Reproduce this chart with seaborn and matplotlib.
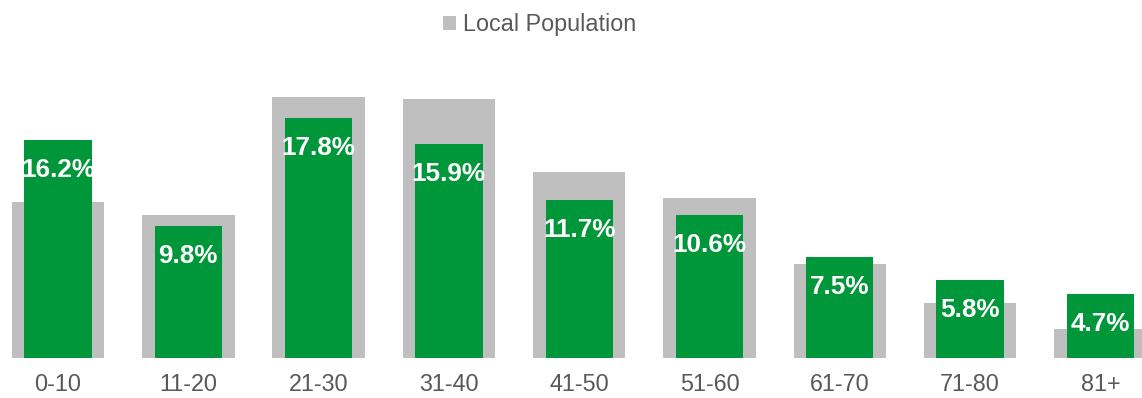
import matplotlib
matplotlib.use("Agg")
import matplotlib.pyplot as plt
from matplotlib.patches import Patch
import seaborn as sns
import pandas as pd

# Age bands and shares (%)
age_groups = ["0-10", "11-20", "21-30", "31-40", "41-50", "51-60", "61-70", "71-80", "81+"]
local_population = [11.6, 10.6, 19.4, 19.2, 13.8, 11.9, 7.0, 4.1, 2.1]
customers = [16.2, 9.8, 17.8, 15.9, 11.7, 10.6, 7.5, 5.8, 4.7]

GREY = "#BFBFBF"
GREEN = "#00963A"
TEXT = "#595959"

sns.set_theme(style="white")
plt.rcParams["font.family"] = ["Liberation Sans", "DejaVu Sans"]

W, H = 1142, 398
fig = plt.figure(figsize=(W / 100, H / 100), dpi=100)

base_px = 357.7
top_px = 60.0
px_per_pct = 13.45
ax = fig.add_axes([0, (H - base_px) / H, 1, (base_px - top_px) / H])

df = pd.DataFrame({"age": age_groups, "local": local_population, "cust": customers})

sns.barplot(data=df, x="age", y="local", color=GREY, width=0.71,
            saturation=1, edgecolor="none", linewidth=0, ax=ax, zorder=1)
sns.barplot(data=df, x="age", y="cust", color=GREEN, width=0.517,
            saturation=1, edgecolor="none", linewidth=0, ax=ax, zorder=2)

# category 0 centred at 58 px, 130.3 px between categories
ax.set_xlim(-58 / 130.3, (W - 58) / 130.3)
ax.set_ylim(0, (base_px - top_px) / px_per_pct)

# value labels inside the green bars
offset = 30 / px_per_pct
for i, v in enumerate(customers):
    ax.text(i, v - offset, f"{v}%", ha="center", va="center",
            color="white", fontsize=18.8, fontweight="bold", zorder=3)

ax.set_xlabel("")
ax.set_ylabel("")
ax.set_yticks([])
ax.tick_params(axis="x", length=0, pad=11, labelsize=16.8, labelcolor=TEXT)
for s in ax.spines.values():
    s.set_visible(False)

fig.legend(handles=[Patch(facecolor=GREY, edgecolor="none", label="Local Population")],
           loc="center", bbox_to_anchor=(540 / W, 1 - 25 / H), frameon=False,
           fontsize=16.8, labelcolor=TEXT, handlelength=0.55, handleheight=0.55,
           handletextpad=0.3, borderaxespad=0, borderpad=0)

fig.savefig("out.png", dpi=100)
